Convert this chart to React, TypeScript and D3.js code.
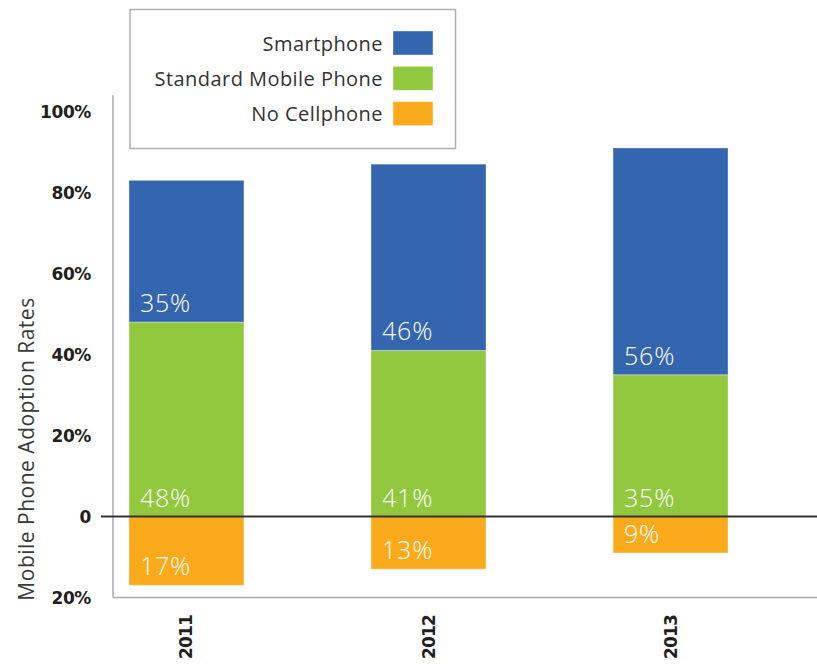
import React from "react";
import * as d3 from "d3";

// Mobile phone adoption by year (percent of respondents)
const years = ["2011", "2012", "2013"];
const smartphone = [35, 46, 56];
const standardPhone = [48, 41, 35];
const noCellphone = [17, 13, 9];

const seriesNames = ["Smartphone", "Standard Mobile Phone", "No Cellphone"];
const seriesColors = ["#3465AF", "#92C83E", "#FBAA1C"];

const yTickValues = [-20, 0, 20, 40, 60, 80, 100];
const yTickLabels = ["20%", "0", "20%", "40%", "60%", "80%", "100%"];

const W = 817;
const H = 664;
const FONT = "'Open Sans', Lato, sans-serif";
const BOLD_FONT = "'DejaVu Sans', 'Open Sans', sans-serif";

export default function App() {
  const rows = years.map((year, i) => ({
    year,
    standard: standardPhone[i],
    smart: smartphone[i],
    none: -noCellphone[i],
  }));

  // Diverging stack: standard then smartphone above zero, no-cellphone below
  const keys = ["standard", "smart", "none"];
  const stacked = d3
    .stack<any>()
    .keys(keys)
    .offset(d3.stackOffsetDiverging)(rows);

  const keyColor: Record<string, string> = {
    smart: seriesColors[0],
    standard: seriesColors[1],
    none: seriesColors[2],
  };

  const x = d3
    .scaleBand<string>()
    .domain(years)
    .range([113, 744])
    .paddingInner(0.525)
    .paddingOuter(0.066);

  const y = d3.scaleLinear().domain([-20, 104]).range([597.5, 95.3]);

  const axisX = 113;
  const axisBottom = y(-20);

  return (
    <svg
      width={W}
      height={H}
      style={{ position: "absolute", left: 0, top: 0, background: "#fff" }}
      fontFamily={FONT}
    >
      {/* axes frame */}
      <line x1={axisX} x2={axisX} y1={y(104)} y2={axisBottom} stroke="#a8a8a8" strokeWidth={1.5} />
      <line x1={axisX} x2={W} y1={axisBottom} y2={axisBottom} stroke="#a8a8a8" strokeWidth={1.5} />

      {/* y tick labels */}
      {yTickValues.map((v, i) => (
        <text
          key={"yt" + i}
          x={91}
          y={y(v)}
          textAnchor="end"
          dominantBaseline="central"
          fontFamily={BOLD_FONT}
          fontSize={17}
          fontWeight={700}
          letterSpacing={-0.4}
          fill="#231f20"
        >
          {yTickLabels[i]}
        </text>
      ))}

      {/* y axis title */}
      <text
        transform={`translate(26, ${449}) rotate(-90)`}
        textAnchor="middle"
        dominantBaseline="central"
        fontSize={21}
        letterSpacing={0.5}
        fill="#3a3a3a"
      >
        Mobile Phone Adoption Rates
      </text>

      {/* bars */}
      {stacked.map((layer) =>
        layer.map((seg, i) => {
          const x0 = x(years[i]) as number;
          const top = y(Math.max(seg[0], seg[1]));
          const bot = y(Math.min(seg[0], seg[1]));
          return (
            <rect
              key={layer.key + i}
              x={x0}
              y={top}
              width={x.bandwidth()}
              height={bot - top}
              fill={keyColor[layer.key]}
              stroke="rgba(255,255,255,0.35)"
              strokeWidth={1}
            />
          );
        })
      )}

      {/* value labels at the lower end of each segment */}
      {stacked.map((layer) =>
        layer.map((seg, i) => {
          const x0 = x(years[i]) as number;
          const low = Math.min(seg[0], seg[1]);
          const value = Math.abs(seg[1] - seg[0]);
          return (
            <text
              key={"lbl" + layer.key + i}
              x={x0 + 11}
              y={y(low) - 20}
              dominantBaseline="central"
              fontSize={25}
              fontWeight={300}
              letterSpacing={0.8}
              fill="#ffffff"
            >
              {`${value}%`}
            </text>
          );
        })
      )}

      {/* zero line */}
      <line x1={101} x2={W} y1={y(0)} y2={y(0)} stroke="#333" strokeWidth={2} />

      {/* x labels */}
      {years.map((yr) => (
        <text
          key={"xl" + yr}
          transform={`translate(${(x(yr) as number) + x.bandwidth() / 2}, 637) rotate(-90)`}
          textAnchor="middle"
          dominantBaseline="central"
          fontFamily={BOLD_FONT}
          fontSize={17}
          fontWeight={700}
          letterSpacing={-0.8}
          fill="#231f20"
        >
          {yr}
        </text>
      ))}

      {/* legend */}
      <rect x={130} y={9.5} width={325.5} height={139} fill="#fff" stroke="#b0b0b0" strokeWidth={1.5} />
      {seriesNames.map((name, i) => (
        <g key={"lg" + name} transform={`translate(0, ${31 + i * 35.3})`}>
          <text
            x={383}
            y={12}
            textAnchor="end"
            dominantBaseline="central"
            fontSize={20}
            letterSpacing={0.45}
            fill="#333"
          >
            {name}
          </text>
          <rect x={393} y={0} width={40} height={24} fill={seriesColors[i]} stroke="rgba(255,255,255,0.4)" strokeWidth={1} />
        </g>
      ))}
    </svg>
  );
}
